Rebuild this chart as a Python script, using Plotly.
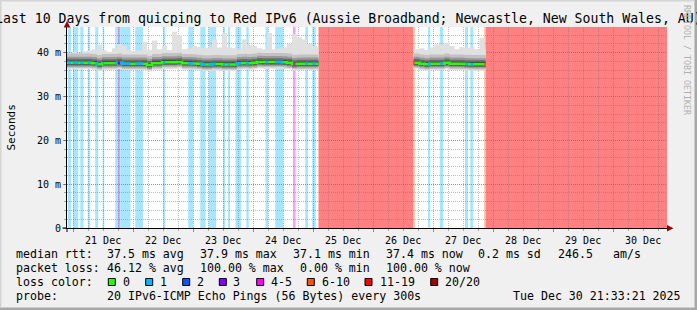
import pandas as pd
import plotly.graph_objects as go

# ---------------- data ----------------
START = pd.Timestamp("2025-12-20 21:33:21")
END = pd.Timestamp("2025-12-30 21:33:21")

# segment A (before the outage): samples every 2 hours (hours since START)
seg_a_hours = list(range(0, 101, 2))
seg_a_end = 100.6
seg_a_median = [37.7, 37.7, 37.7, 37.7, 37.7, 37.6, 37.35, 37.6, 37.6, 37.6,
                37.7, 37.5, 37.5, 37.5, 37.5, 37.5, 37.2, 37.6, 37.6, 37.8,
                37.8, 37.8, 37.9, 37.6, 37.6, 37.55,
                37.45, 37.3, 37.3, 37.4, 37.4, 37.3, 37.3, 37.3, 37.6, 37.65,
                37.6, 37.7, 37.9, 37.85, 37.85, 37.85, 37.85, 37.8, 37.7, 37.4,
                37.5, 37.5, 37.5, 37.5, 37.5]
seg_a_max = [40.0, 40.2, 40.0, 40.3, 40.5, 40.8, 41.8, 40.5, 40.2, 41.0,
             42.0, 41.5, 40.5, 40.3, 40.5, 42.5, 40.6, 42.8, 40.8, 41.5,
             40.6, 44.8, 44.0, 40.8, 41.0, 41.5,
             41.3, 41.0, 41.2, 43.0, 41.2, 44.5, 41.2, 41.0, 40.8, 43.0,
             41.8, 41.5, 41.0, 40.8, 44.5, 40.8, 41.0, 41.2, 42.0, 44.2,
             43.5, 43.0, 42.0, 41.5, 41.2]

# segment B (between the outages)
seg_b_hours = [138.6, 141, 143, 145, 147, 149, 151, 153, 155, 157, 159, 161, 163, 165, 167]
seg_b_end = 167.5
seg_b_median = [37.7, 37.5, 37.35, 37.5, 37.5, 37.5, 37.7, 37.5, 37.5, 37.5,
                37.4, 37.35, 37.35, 37.35, 37.35]
seg_b_max = [40.8, 41.0, 40.6, 41.2, 41.9, 41.9, 42.3, 41.5, 40.8, 41.3,
             41.2, 41.3, 40.8, 43.4, 40.8]

# smoke spread around the median (ms), outer -> inner layer
smoke_below = [1.5, 1.2, 0.9, 0.6, 0.35]
smoke_above = [None, 2.1, 1.4, 0.9, 0.45]
smoke_colors = ["#e0e0e0", "#c2c2c2", "#9a9a9a", "#6c6c6c", "#404040"]

# loss periods (hours since START) and loss category
loss_start = [0.4, 2.4, 5.3, 8.3, 11.3, 14.2, 19.3, 20.3, 21.3, 27.3, 38.4, 48.5,
              53.3, 56.6, 62.4, 64.4, 67.4, 71.7, 79.4, 83.3, 90.4, 95.3, 98.1,
              100.6, 138.5, 144.4, 149.2, 159.2, 161.3, 166.9, 167.5]
loss_end = [1.6, 4.5, 6.6, 9.3, 12.5, 14.9, 20.3, 21.3, 25.4, 30.4, 39.3, 50.4,
            55.4, 59.6, 63.2, 65.2, 69.7, 72.7, 80.5, 86.5, 91.4, 96.4, 99.5,
            138.5, 139.1, 145.3, 150.5, 160.4, 162.5, 167.5, 240.0]
loss_cat = ["1", "1", "1", "1", "1", "1", "1", "3", "1", "1", "1", "1",
            "1", "1", "1", "1", "1", "1", "1", "1", "4-5", "1", "1",
            "20/20", "6-10", "1", "1", "1", "1", "6-10", "20/20"]

loss_labels = ["0", "1", "2", "3", "4-5", "6-10", "11-19", "20/20"]
loss_colors = ["#26ff00", "#00b8ff", "#0059ff", "#7e00ff", "#ff00ff", "#ff5500", "#ff0000", "#a10000"]
loss_bg = {"1": "#a6e6ff", "2": "#a6c5ff", "3": "#d2a6ff", "4-5": "#ff99ff",
           "6-10": "#ffbb99", "11-19": "#ff9999", "20/20": "#ff8080"}

y_tickvals = [0, 10, 20, 30, 40]
y_ticktext = ["0", "10 m", "20 m", "30 m", "40 m"]

title_text = "Last 10 Days from quicping to Red IPv6 (Aussie Broadband; Newcastle, New South Wales, AU)"
row1 = [("median rtt:", 16), ("37.5 ms avg", 107.3), ("37.9 ms max", 200), ("37.1 ms min", 293.3),
        ("37.4 ms now", 385.7), ("0.2 ms sd", 478.3), ("246.5", 558.3), ("am/s", 613.3)]
row2 = [("packet loss:", 16), ("46.12 % avg", 107.3), ("100.00 % max", 200),
        ("0.00 % min", 300), ("100.00 % now", 385.7)]
row4 = [("probe:", 16), ("20 IPv6-ICMP Echo Pings (56 Bytes) every 300s", 107.3)]
date_text = "Tue Dec 30 21:33:21 2025"
legend_box_x = [108.3, 145.7, 182.7, 219.3, 256.7, 307.3, 365.0, 430.7]
legend_lbl_x = [123.3, 160.0, 196.7, 233.3, 270.7, 321.7, 380.0, 445.0]

# ---------------- layout helpers ----------------
W, H = 697, 310
ML, MR, MT, MB = 67, 30, 27, 82
PW, PH = W - ML - MR, H - MT - MB
FONT = "DejaVu Sans Mono"


def px2x(px):
    return (px - ML) / PW


def py2y(py):
    return (MT + PH - py) / PH


def T(h):
    return START + pd.Timedelta(hours=h)


fig = go.Figure()

segments = [(seg_a_hours, seg_a_end, seg_a_median, seg_a_max),
            (seg_b_hours, seg_b_end, seg_b_median, seg_b_max)]

for hours, end, med, mx in segments:
    hh = hours + [end]
    xs = [T(h) for h in hh]
    med_e = med + [med[-1]]
    mx_e = mx + [mx[-1]]
    for i, col in enumerate(smoke_colors):
        lo = [m - smoke_below[i] for m in med_e]
        if smoke_above[i] is None:
            hi = mx_e
        else:
            hi = [min(m + smoke_above[i], v) for m, v in zip(med_e, mx_e)]
        fig.add_trace(go.Scatter(x=xs, y=lo, mode="lines", line=dict(width=0, shape="hv"),
                                 hoverinfo="skip", showlegend=False))
        fig.add_trace(go.Scatter(x=xs, y=hi, mode="lines", line=dict(width=0, shape="hv"),
                                 fill="tonexty", fillcolor=col, hoverinfo="skip", showlegend=False))
    # median line (no loss)
    fig.add_trace(go.Scatter(x=xs, y=med_e, mode="lines",
                             line=dict(color=loss_colors[0], width=2.5, shape="hv"),
                             hoverinfo="skip", showlegend=False))

    def step(t, hours=hours, med=med):
        v = med[0]
        for h, m in zip(hours, med):
            if h <= t:
                v = m
        return v

    seg_start = hours[0]
    for s, e, c in zip(loss_start, loss_end, loss_cat):
        a, b = max(s, seg_start), min(e, end)
        if b <= a:
            continue
        pts = [a] + [h for h in hours if a < h < b] + [b]
        fig.add_trace(go.Scatter(x=[T(p) for p in pts], y=[step(p) for p in pts], mode="lines",
                                 line=dict(color=loss_colors[loss_labels.index(c)], width=2.5, shape="hv"),
                                 hoverinfo="skip", showlegend=False))

shapes = []
# loss background bands
for s, e, c in zip(loss_start, loss_end, loss_cat):
    shapes.append(dict(type="rect", xref="x", yref="paper", x0=T(s), x1=T(e), y0=0, y1=1,
                       fillcolor=loss_bg[c], line=dict(width=0), layer="below"))

# axis arrows
shapes.append(dict(type="path", xref="paper", yref="paper", layer="above",
                   path=f"M {px2x(63.7)} {py2y(27.5)} L {px2x(67)} {py2y(21)} L {px2x(70.3)} {py2y(27.5)} Z",
                   fillcolor="#990000", line=dict(width=0)))
shapes.append(dict(type="path", xref="paper", yref="paper", layer="above",
                   path=f"M {px2x(667)} {py2y(225)} L {px2x(673.5)} {py2y(228.3)} L {px2x(667)} {py2y(231.6)} Z",
                   fillcolor="#990000", line=dict(width=0)))
# axis stubs beyond the origin
shapes.append(dict(type="line", xref="paper", yref="paper", x0=px2x(62.5), x1=px2x(67),
                   y0=0, y1=0, line=dict(color="#000000", width=1)))
shapes.append(dict(type="line", xref="paper", yref="paper", x0=0, x1=0,
                   y0=py2y(228), y1=py2y(232), line=dict(color="#000000", width=1)))

# legend colour boxes
for bx, col in zip(legend_box_x, loss_colors):
    shapes.append(dict(type="rect", xref="paper", yref="paper",
                       x0=px2x(bx), x1=px2x(bx + 7), y0=py2y(285.5), y1=py2y(278.5),
                       fillcolor=col, line=dict(color="#000000", width=1)))

# canvas frame (3D look)
shapes.append(dict(type="rect", xref="paper", yref="paper", x0=px2x(0), x1=px2x(697),
                   y0=py2y(307.5), y1=py2y(310), fillcolor="#a8a8a8", line=dict(width=0)))
shapes.append(dict(type="rect", xref="paper", yref="paper", x0=px2x(694.5), x1=px2x(697),
                   y0=py2y(310), y1=py2y(0), fillcolor="#a8a8a8", line=dict(width=0)))
shapes.append(dict(type="rect", xref="paper", yref="paper", x0=px2x(0), x1=px2x(694.5),
                   y0=py2y(1.5), y1=py2y(0), fillcolor="#d4d4d4", line=dict(width=0)))
shapes.append(dict(type="rect", xref="paper", yref="paper", x0=px2x(0), x1=px2x(1.5),
                   y0=py2y(307.5), y1=py2y(0), fillcolor="#d4d4d4", line=dict(width=0)))

annotations = []


def txt(text, px, py, size=11.6, anchor="left", color="#000000", angle=0):
    annotations.append(dict(text=text, x=px2x(px), y=py2y(py), xref="paper", yref="paper",
                            xanchor=anchor, yanchor="middle", showarrow=False, textangle=angle,
                            borderpad=0, borderwidth=0,
                            font=dict(family=FONT, size=size, color=color)))


# title: wider than the canvas in the reference, so it overflows both edges
txt(title_text, -5.5, 18.5, size=13.2, anchor="left")
for t, x in row1:
    txt(t, x, 254)
for t, x in row2:
    txt(t, x, 268)
txt("loss color:", 16, 282)
for lbl, x in zip(loss_labels, legend_lbl_x):
    txt(lbl, x, 282)
for t, x in row4:
    txt(t, x, 296)
txt(date_text, 681, 296, anchor="right")
txt("Seconds", 11, 127.5, size=11, angle=-90)
annotations[-1]["xanchor"] = "center"
txt("RRDTOOL / TOBI OETIKER", 687, 60, size=8.3, color="#b0b0b0", angle=90)
annotations[-1]["xanchor"] = "center"

fig.update_layout(
    width=W, height=H,
    margin=dict(l=ML, r=MR, t=MT, b=MB, pad=0),
    paper_bgcolor="#f0f0f0", plot_bgcolor="#ffffff",
    showlegend=False,
    shapes=shapes, annotations=annotations,
    xaxis=dict(type="date", range=[START, END], dtick=86400000, tick0="2025-12-21 00:00:00",
               ticklabelmode="period", tickformat="%d %b",
               tickfont=dict(family=FONT, size=10, color="#000000"),
               showline=True, linecolor="#000000", linewidth=1,
               ticks="outside", ticklen=3, tickcolor="rgba(255,0,0,0.6)",
               showgrid=True, gridcolor="rgba(255,60,60,0.55)", gridwidth=1, griddash="1px,1px",
               minor=dict(dtick=6 * 3600000, showgrid=True, gridcolor="rgba(120,120,120,0.5)",
                          griddash="1px,1px", ticks="outside", ticklen=2,
                          tickcolor="rgba(120,120,120,0.6)"),
               zeroline=False, fixedrange=True),
    yaxis=dict(range=[0, 45.86], tickvals=y_tickvals, ticktext=y_ticktext,
               tickfont=dict(family=FONT, size=10, color="#000000"),
               showline=True, linecolor="#000000", linewidth=1,
               ticks="outside", ticklen=3, tickcolor="rgba(255,0,0,0.6)",
               showgrid=True, gridcolor="rgba(255,60,60,0.55)", gridwidth=1, griddash="1px,1px",
               minor=dict(dtick=2, tick0=0, showgrid=True, gridcolor="rgba(120,120,120,0.5)",
                          griddash="1px,1px", ticks="outside", ticklen=2,
                          tickcolor="rgba(120,120,120,0.6)"),
               zeroline=False, fixedrange=True),
)

fig.write_html("out.html")
